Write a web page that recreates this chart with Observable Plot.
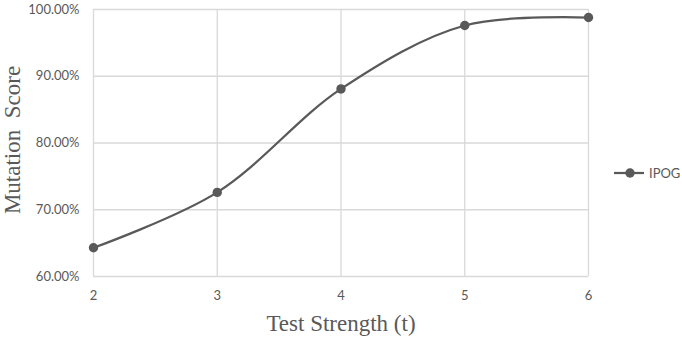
<!DOCTYPE html>
<html>
<head>
<meta charset="utf-8">
<script src="https://cdn.jsdelivr.net/npm/d3@7"></script>
<script src="https://cdn.jsdelivr.net/npm/@observablehq/plot@0.6"></script>
<style>
  html, body { margin: 0; padding: 0; background: #fff; }
  #wrap { position: relative; width: 682px; height: 340px; overflow: hidden; }
  #legend { position: absolute; left: 613px; top: 164px; display: flex; align-items: center;
            font-family: Lato, "Open Sans", sans-serif; font-size: 13px; color: #595959; white-space: nowrap; }
</style>
</head>
<body>
<div id="wrap"></div>
<script>
const strengths = [2, 3, 4, 5, 6];
const scores = [0.643, 0.726, 0.881, 0.976, 0.988];
const seriesName = "IPOG";
const yTicks = [0.6, 0.7, 0.8, 0.9, 1.0];
const xTitle = "Test Strength (t)";
const yTitle = "Mutation  Score";

const data = strengths.map((t, i) => ({t, score: scores[i]}));
const ink = "#595959";
const grid = "#d9d9d9";

const chart = Plot.plot({
  width: 682,
  height: 340,
  marginLeft: 93,
  marginRight: 94,
  marginTop: 9,
  marginBottom: 64,
  style: {fontFamily: "Lato, 'Open Sans', sans-serif", fontSize: "13px", color: ink, background: "#fff"},
  x: {domain: [2, 6], ticks: strengths, label: null},
  y: {domain: [0.6, 1.0], ticks: yTicks, label: null},
  marks: [
    Plot.gridX(strengths, {stroke: grid, strokeOpacity: 1, strokeWidth: 1.3}),
    Plot.gridY(yTicks, {stroke: grid, strokeOpacity: 1, strokeWidth: 1.3}),
    Plot.axisX(strengths, {tickSize: 0, tickPadding: 14, fill: ink, fontSize: 13, tickFormat: d => String(d)}),
    Plot.axisY(yTicks, {tickSize: 0, tickPadding: 14, fill: ink, fontSize: 13, tickFormat: d => (d * 100).toFixed(2) + "%"}),
    Plot.line(data, {x: "t", y: "score", stroke: ink, strokeWidth: 2.25, curve: "catmull-rom"}),
    Plot.dot(data, {x: "t", y: "score", r: 4.7, fill: ink, stroke: null})
  ]
});

const svg = d3.select(chart);
svg.append("text")
  .attr("x", 341).attr("y", 331)
  .attr("text-anchor", "middle")
  .style("font-family", "'Liberation Serif', 'Times New Roman', serif")
  .style("font-size", "23px").attr("fill", ink)
  .text(xTitle);
svg.append("text")
  .attr("transform", "translate(20,140) rotate(-90)")
  .attr("text-anchor", "middle")
  .style("font-family", "'Liberation Serif', 'Times New Roman', serif")
  .style("font-size", "23px").style("white-space", "pre").attr("fill", ink)
  .text(yTitle);

const wrap = document.getElementById("wrap");
wrap.appendChild(chart);

const legend = document.createElement("div");
legend.id = "legend";
legend.innerHTML = `<svg width="34" height="18" style="margin-right:2px"><line x1="1" y1="9" x2="31" y2="9" stroke="${ink}" stroke-width="2.25"/><circle cx="17" cy="9" r="4.7" fill="${ink}"/></svg><span>${seriesName}</span>`;
wrap.appendChild(legend);
</script>
</body>
</html>
